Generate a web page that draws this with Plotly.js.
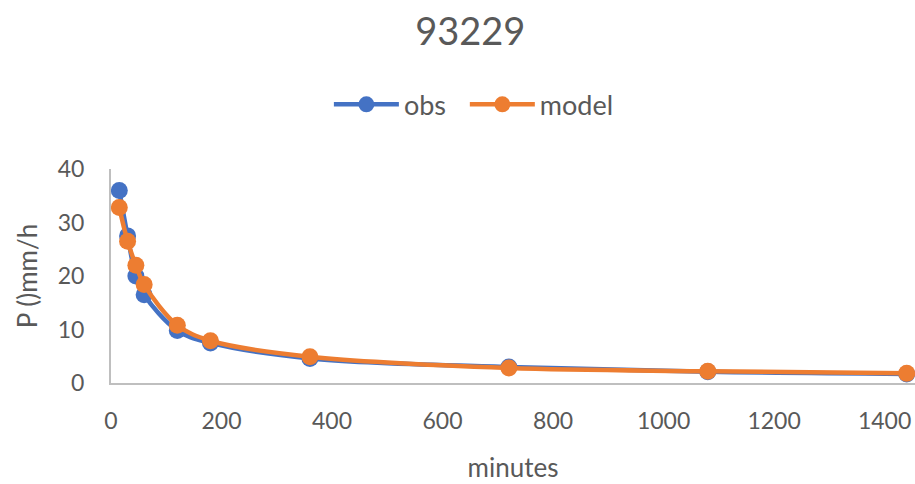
<!DOCTYPE html>
<html>
<head>
<meta charset="utf-8">
<script src="https://cdn.plot.ly/plotly-3.0.1.min.js"></script>
<style>html,body{margin:0;padding:0;background:#fff;}#chart{width:915px;height:484px;}</style>
</head>
<body>
<div id="chart"></div>
<script>
const minutes = [15, 30, 45, 60, 120, 180, 360, 720, 1080, 1440];
const obs = [36, 27.5, 20, 16.5, 9.8, 7.5, 4.6, 3.0, 2.1, 1.7];
const model = [32.8, 26.5, 22, 18.4, 10.8, 7.9, 4.9, 2.8, 2.2, 1.8];
const xTicks = [0, 200, 400, 600, 800, 1000, 1200, 1400];
const yTicks = [0, 10, 20, 30, 40];

const font = "Lato, 'Open Sans', sans-serif";
const traces = [
  {x: minutes, y: obs, name: 'obs\u00a0\u00a0', type: 'scatter', mode: 'lines+markers',
   line: {color: '#4472C4', width: 4.5, shape: 'spline'},
   marker: {color: '#4472C4', size: 17}, cliponaxis: false},
  {x: minutes, y: model, name: 'model', type: 'scatter', mode: 'lines+markers',
   line: {color: '#ED7D31', width: 4.5, shape: 'spline'},
   marker: {color: '#ED7D31', size: 17}, cliponaxis: false}
];
const layout = {
  width: 915, height: 484,
  margin: {l: 111, r: 0, t: 169, b: 101},
  paper_bgcolor: '#fff', plot_bgcolor: '#fff',
  font: {family: font, color: '#595959', size: 23},
  title: {text: '93229', x: 0.514, xref: 'container', xanchor: 'center', y: 0.935, yref: 'container', yanchor: 'middle', font: {size: 38, color: '#595959', family: font}},
  showlegend: true,
  legend: {orientation: 'h', x: 0.271, xanchor: 'left', y: 1.3, yanchor: 'middle', font: {size: 27, color: '#595959'}, itemwidth: 65},
  xaxis: {range: [0, 1455], tickvals: xTicks, ticktext: xTicks.map(String), showgrid: false, zeroline: false,
    showline: true, linecolor: '#BFBFBF', linewidth: 2, ticks: '', ticklen: 0, ticklabelstandoff: 16,
    tickfont: {size: 23, color: '#595959'},
    title: {text: 'minutes', font: {size: 26, color: '#595959'}, standoff: 26}},
  yaxis: {range: [0, 40], tickvals: yTicks, ticktext: yTicks.map(String), showgrid: false, zeroline: false,
    showline: true, linecolor: '#BFBFBF', linewidth: 2, ticks: '', ticklen: 0, ticklabelstandoff: 20,
    tickfont: {size: 23, color: '#595959'},
    title: {text: 'P ()mm/h', font: {size: 26, color: '#595959'}, standoff: 13}}
};
Plotly.newPlot('chart', traces, layout, {displayModeBar: false, responsive: false});
</script>
</body>
</html>
